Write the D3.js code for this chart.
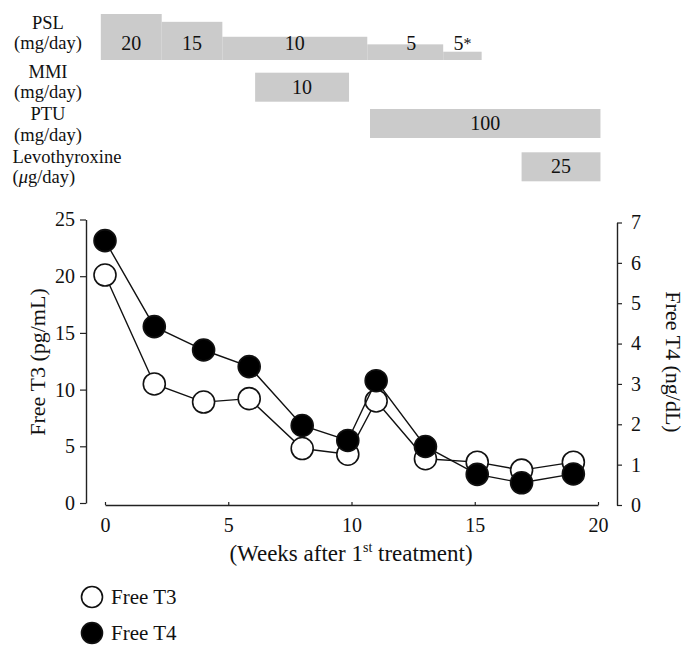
<!DOCTYPE html>
<html>
<head>
<meta charset="utf-8">
<script src="https://cdn.jsdelivr.net/npm/d3@7"></script>
<style>
  html, body { margin: 0; padding: 0; background: #fff; }
  svg { display: block; }
  text { font-family: "Liberation Serif", "DejaVu Serif", serif; fill: #111; }
</style>
</head>
<body>
<script>
// ---------- data ----------
const weeks  = [0, 2, 4, 5.85, 8, 9.85, 11, 13, 15.1, 16.9, 19];
const freeT3 = [20.1, 10.5, 8.9, 9.2, 4.8, 4.3, 9.0, 3.9, 3.6, 2.9, 3.6];     // pg/mL
const freeT4 = [6.55, 4.42, 3.84, 3.43, 1.97, 1.6, 3.08, 1.45, 0.76, 0.55, 0.77]; // ng/dL

const xTicks  = [0, 5, 10, 15, 20];
const t3Ticks = [0, 5, 10, 15, 20, 25];
const t4Ticks = [0, 1, 2, 3, 4, 5, 6, 7];

// PSL tapering schedule (weeks)
const pslStart = [-0.17, 2.3, 4.76, 10.64, 13.72];
const pslEnd   = [2.3, 4.76, 10.64, 13.72, 15.28];
const pslDose  = ["20", "15", "10", "5", "5*"];
const pslLevel = [20, 16.6, 10.1, 6.8, 3.6]; // relative step height as drawn

// other drugs
const drugNames = ["MMI", "PTU", "Levothyroxine"];
const drugUnits = ["(mg/day)", "(mg/day)", "(\u03bcg/day)"];
const drugStart = [6.09, 10.75, 16.9];
const drugEnd   = [9.9, 20.1, 20.1];
const drugDose  = ["10", "100", "25"];

// ---------- layout ----------
const W = 689, H = 656;
const svg = d3.select("body").append("svg").attr("width", W).attr("height", H);

const x  = d3.scaleLinear().domain([0, 20]).range([105, 598]);
const yL = d3.scaleLinear().domain([0, 25]).range([503, 219.5]);
const yR = d3.scaleLinear().domain([0, 7]).range([505, 222.5]);
const hPsl = d3.scaleLinear().domain([0, 20]).range([0, 46]);
const gray = "#cbcbcb";

// ---------- treatment bars ----------
const pslBase = 60;
const psl = pslStart.map((s, i) => ({s, e: pslEnd[i], dose: pslDose[i], lvl: pslLevel[i]}));
svg.append("g").selectAll("rect").data(psl).join("rect")
  .attr("x", d => x(d.s)).attr("width", d => x(d.e) - x(d.s))
  .attr("y", d => pslBase - hPsl(d.lvl)).attr("height", d => hPsl(d.lvl))
  .attr("fill", gray);
svg.append("g").selectAll("text").data(psl).join("text")
  .attr("x", d => (x(d.s) + x(d.e)) / 2 + (d.dose === "5" ? 6 : 0))
  .attr("y", 50).attr("text-anchor", "middle").attr("font-size", 20)
  .each(function(d) {
    const t = d3.select(this);
    if (d.dose.endsWith("*")) {
      t.append("tspan").text(d.dose.slice(0, -1));
      t.append("tspan").attr("font-size", 16).attr("dy", -1).text("*");
    } else t.text(d.dose);
  });

const rowTop = [72.7, 109, 152.3], rowH = 29;
const drugs = drugNames.map((n, i) => ({n, u: drugUnits[i], s: drugStart[i], e: drugEnd[i], dose: drugDose[i], top: rowTop[i]}));
svg.append("g").selectAll("rect").data(drugs).join("rect")
  .attr("x", d => x(d.s)).attr("width", d => x(d.e) - x(d.s))
  .attr("y", d => d.top).attr("height", rowH).attr("fill", gray);
svg.append("g").selectAll("text").data(drugs).join("text")
  .attr("x", d => (x(d.s) + x(d.e)) / 2).attr("y", d => d.top + rowH / 2 + 6.5)
  .attr("text-anchor", "middle").attr("font-size", 20).text(d => d.dose);

// row labels
const labelRows = [
  {a: "PSL", b: "(mg/day)", y1: 29, y2: 49, anchor: "middle", x: 48},
  {a: "MMI", b: "(mg/day)", y1: 77.5, y2: 97.5, anchor: "middle", x: 48},
  {a: "PTU", b: "(mg/day)", y1: 120, y2: 140.5, anchor: "middle", x: 48},
  {a: "Levothyroxine", b: "(\u03bcg/day)", y1: 162.5, y2: 182.5, anchor: "start", x: 12.5}
];
const fs = 18.5;
const lg = svg.append("g");
labelRows.forEach(r => {
  lg.append("text").attr("x", r.x).attr("y", r.y1).attr("text-anchor", r.anchor).attr("font-size", fs).text(r.a);
  const t = lg.append("text").attr("x", r.x).attr("y", r.y2).attr("text-anchor", r.anchor).attr("font-size", fs);
  if (r.b.includes("\u03bc")) {
    t.append("tspan").text("(");
    t.append("tspan").attr("font-style", "italic").text("\u03bc");
    t.append("tspan").text("g/day)");
  } else t.text(r.b);
});

// ---------- axes ----------
const axL = svg.append("g").attr("transform", "translate(86,0)")
  .call(d3.axisLeft(yL).tickValues(t3Ticks).tickFormat(d3.format("d")).tickSize(6).tickSizeOuter(0).tickPadding(5));
const axR = svg.append("g").attr("transform", "translate(617,0)")
  .call(d3.axisRight(yR).tickValues(t4Ticks).tickFormat(d3.format("d")).tickSize(5).tickSizeOuter(0).tickPadding(9));
const axB = svg.append("g").attr("transform", "translate(0,505)")
  .call(d3.axisBottom(x).tickValues(xTicks).tickFormat(d3.format("d")).tickSize(-3).tickSizeOuter(0).tickPadding(0));
[axL, axR, axB].forEach(a => {
  a.selectAll("path.domain").attr("stroke", "#222").attr("stroke-width", 1.4);
  a.selectAll(".tick line").attr("stroke", "#222").attr("stroke-width", 1.2);
  a.selectAll("text").attr("font-size", 20).attr("fill", "#111")
    .attr("font-family", "\"Liberation Serif\", \"DejaVu Serif\", serif");
});
axB.selectAll(".tick text").attr("y", 27).attr("dy", 0);

// axis titles
svg.append("text").attr("transform", "translate(45,362) rotate(-90)")
  .attr("text-anchor", "middle").attr("font-size", 22).text("Free T3 (pg/mL)");
svg.append("text").attr("transform", "translate(666,362) rotate(90)")
  .attr("text-anchor", "middle").attr("font-size", 22).text("Free T4 (ng/dL)");
const xt = svg.append("text").attr("x", 351).attr("y", 561).attr("text-anchor", "middle").attr("font-size", 23);
xt.append("tspan").text("(Weeks after 1");
xt.append("tspan").attr("font-size", 14).attr("dy", -9).text("st");
xt.append("tspan").attr("dy", 9).text(" treatment)");

// ---------- series ----------
const t3 = weeks.map((w, i) => [w, freeT3[i]]);
const t4 = weeks.map((w, i) => [w, freeT4[i]]);
const lineL = d3.line().x(d => x(d[0])).y(d => yL(d[1]));
const lineR = d3.line().x(d => x(d[0])).y(d => yR(d[1]));
const r = 11;

svg.append("path").datum(t3).attr("d", lineL).attr("fill", "none").attr("stroke", "#111").attr("stroke-width", 1.4);
svg.append("g").selectAll("circle").data(t3).join("circle")
  .attr("cx", d => x(d[0])).attr("cy", d => yL(d[1])).attr("r", r)
  .attr("fill", "#fff").attr("stroke", "#111").attr("stroke-width", 1.6);
svg.append("path").datum(t4).attr("d", lineR).attr("fill", "none").attr("stroke", "#111").attr("stroke-width", 1.4);
svg.append("g").selectAll("circle").data(t4).join("circle")
  .attr("cx", d => x(d[0])).attr("cy", d => yR(d[1])).attr("r", r)
  .attr("fill", "#000").attr("stroke", "#111").attr("stroke-width", 1.6);

// ---------- legend ----------
const legendItems = ["Free T3", "Free T4"];
const leg = svg.append("g").selectAll("g").data(legendItems).join("g")
  .attr("transform", (d, i) => `translate(92,${597 + i * 36})`);
leg.append("circle").attr("r", 10.5)
  .attr("fill", (d, i) => i === 0 ? "#fff" : "#000").attr("stroke", "#111").attr("stroke-width", 1.6);
leg.append("text").attr("x", 19).attr("y", 7).attr("font-size", 21).text(d => d);
</script>
</body>
</html>
